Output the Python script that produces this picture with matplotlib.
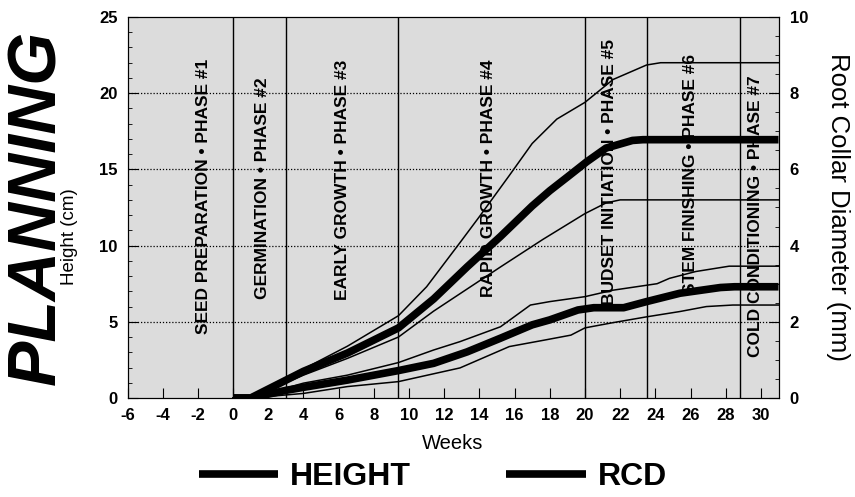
import matplotlib
matplotlib.use("Agg")
import matplotlib.pyplot as plt
from matplotlib.ticker import MultipleLocator

plt.rcParams['font.family'] = ['Liberation Sans', 'DejaVu Sans']
plt.rcParams['axes.unicode_minus'] = False

# ---- data ----
wk_h_upper = [0, 1, 4, 6.5, 9.4, 11, 12.9, 14, 15.7, 17, 18.4, 20, 21.6, 23.5, 24.3, 31]
h_upper = [0, 0, 1.9, 3.4, 5.4, 7.3, 10.2, 11.9, 14.6, 16.7, 18.3, 19.4, 20.9, 21.85, 22.0, 22.0]

wk_h_mean = [0, 1, 4, 6.5, 9.4, 11.4, 13.3, 15.2, 17, 18, 19, 20.1, 21.2, 22.7, 23.3, 31]
h_mean = [0, 0, 1.75, 2.95, 4.6, 6.5, 8.6, 10.6, 12.6, 13.6, 14.5, 15.5, 16.4, 16.9, 16.95, 16.95]

wk_h_lower = [0, 1, 4, 6.5, 9.4, 11.4, 15.2, 17.6, 20, 21.2, 22, 31]
h_lower = [0, 0, 1.5, 2.6, 4.0, 5.7, 8.6, 10.4, 12.1, 12.8, 13.0, 13.0]

wk_rcd_mean = [0, 1, 3, 4, 6.5, 9.4, 11.4, 13.3, 15.2, 17, 18, 19.6, 20.5, 22.2, 23.5, 25.4, 27.7, 28.5, 31]
rcd_mean = [0, 0, 0.2, 0.28, 0.47, 0.72, 0.91, 1.21, 1.57, 1.92, 2.05, 2.31, 2.37, 2.37, 2.53, 2.75, 2.9, 2.92, 2.92]

wk_rcd_upper = [0, 1, 4, 6.5, 9.4, 11.4, 12.9, 15.2, 16.9, 18, 20, 21.6, 24.1, 24.8, 26.3, 28.2, 31]
rcd_upper = [0, 0, 0.39, 0.6, 0.93, 1.26, 1.48, 1.87, 2.44, 2.53, 2.66, 2.83, 3.0, 3.14, 3.32, 3.46, 3.46]

wk_rcd_lower = [0, 1, 4, 6.5, 9.4, 12.9, 15.7, 17.7, 19.2, 20, 21.5, 23.5, 25.4, 26.9, 28.4, 31]
rcd_lower = [0, 0, 0.12, 0.3, 0.43, 0.79, 1.35, 1.52, 1.65, 1.84, 1.97, 2.13, 2.27, 2.4, 2.44, 2.44]

phase_bounds = [0, 3, 9.4, 20, 23.5, 28.8]
phase_labels = [
    "SEED PREPARATION \u2022 PHASE #1",
    "GERMINATION \u2022 PHASE #2",
    "EARLY GROWTH \u2022 PHASE #3",
    "RAPID GROWTH \u2022 PHASE #4",
    "BUDSET INITIATION \u2022 PHASE #5",
    "STEM FINISHING \u2022 PHASE #6",
    "COLD CONDITIONING \u2022 PHASE #7",
]
phase_label_x = [-1.7, 1.65, 6.2, 14.5, 21.4, 26.0, 29.7]
phase_label_y = [13.2, 13.8, 14.3, 14.4, 14.8, 14.7, 11.9]

x_ticks = list(range(-6, 31, 2))
h_ticks = [0, 5, 10, 15, 20, 25]
rcd_ticks = [0, 2, 4, 6, 8, 10]

# ---- figure ----
fig = plt.figure(figsize=(8.55, 4.97), dpi=100)
ax = fig.add_axes([127.5 / 855, 99 / 497, 651 / 855, 381 / 497])
ax.set_facecolor('#dcdcdc')
ax.set_xlim(-6, 31)
ax.set_ylim(0, 25)

for v in [5, 10, 15, 20]:
    ax.axhline(v, color='black', lw=0.9, ls=(0, (1, 1.5)), zorder=1)
for b in phase_bounds:
    ax.axvline(b, color='black', lw=1.0, zorder=1)

thin = 1.1
thick = 5.5
ax.plot(wk_h_upper, h_upper, color='black', lw=thin, zorder=3)
ax.plot(wk_h_lower, h_lower, color='black', lw=thin, zorder=3)
h_line, = ax.plot(wk_h_mean, h_mean, color='black', lw=thick, zorder=4,
                  solid_capstyle='butt')

ax2 = ax.twinx()
ax2.set_ylim(0, 10)
ax2.plot(wk_rcd_upper, rcd_upper, color='black', lw=thin, zorder=3)
ax2.plot(wk_rcd_lower, rcd_lower, color='black', lw=thin, zorder=3)
r_line, = ax2.plot(wk_rcd_mean, rcd_mean, color='black', lw=thick, zorder=4,
                   solid_capstyle='butt')

for lbl, px, py in zip(phase_labels, phase_label_x, phase_label_y):
    ax.text(px, py, lbl, rotation=90, ha='center', va='center',
            fontsize=12.5, fontweight='bold', zorder=5)

ax.set_xticks(x_ticks)
ax.set_xticklabels([str(t) for t in x_ticks])
ax.set_yticks(h_ticks)
ax.set_yticklabels([str(t) for t in h_ticks])
ax.yaxis.set_minor_locator(MultipleLocator(1))
ax2.set_yticks(rcd_ticks)
ax2.set_yticklabels([str(t) for t in rcd_ticks])
ax2.yaxis.set_minor_locator(MultipleLocator(0.5))

ax.tick_params(axis='both', which='major', direction='in', length=7, width=0.8,
               labelsize=12, pad=7)
ax.tick_params(axis='y', which='minor', direction='in', length=3, width=0.6)
ax2.tick_params(axis='y', which='major', direction='in', length=7, width=0.8,
                labelsize=12, pad=8)
ax2.tick_params(axis='y', which='minor', direction='in', length=3, width=0.6)
for t in ax.get_xticklabels() + ax.get_yticklabels() + ax2.get_yticklabels():
    t.set_fontweight('bold')

ax.set_xlabel('Weeks', fontsize=14.5, labelpad=8)
ax2.set_ylabel('Root Collar Diameter (mm)', fontsize=18.5, rotation=-90,
               labelpad=30)

fig.text(37 / 855, 1 - 207 / 497, 'PLANNING', rotation=90, ha='center',
         va='center', fontsize=49, fontweight='bold', fontstyle='italic')
fig.text(69 / 855, 1 - 237 / 497, 'Height (cm)', rotation=90, ha='center',
         va='center', fontsize=13.5)

leg = fig.legend([h_line, r_line], ['HEIGHT', 'RCD'], loc='center',
                 bbox_to_anchor=(0.506, 20 / 497), ncol=2, frameon=False,
                 handlelength=2.5, handletextpad=0.35, columnspacing=3.0,
                 prop={'size': 23, 'weight': 'bold'})

fig.savefig('out.png', dpi=100)
